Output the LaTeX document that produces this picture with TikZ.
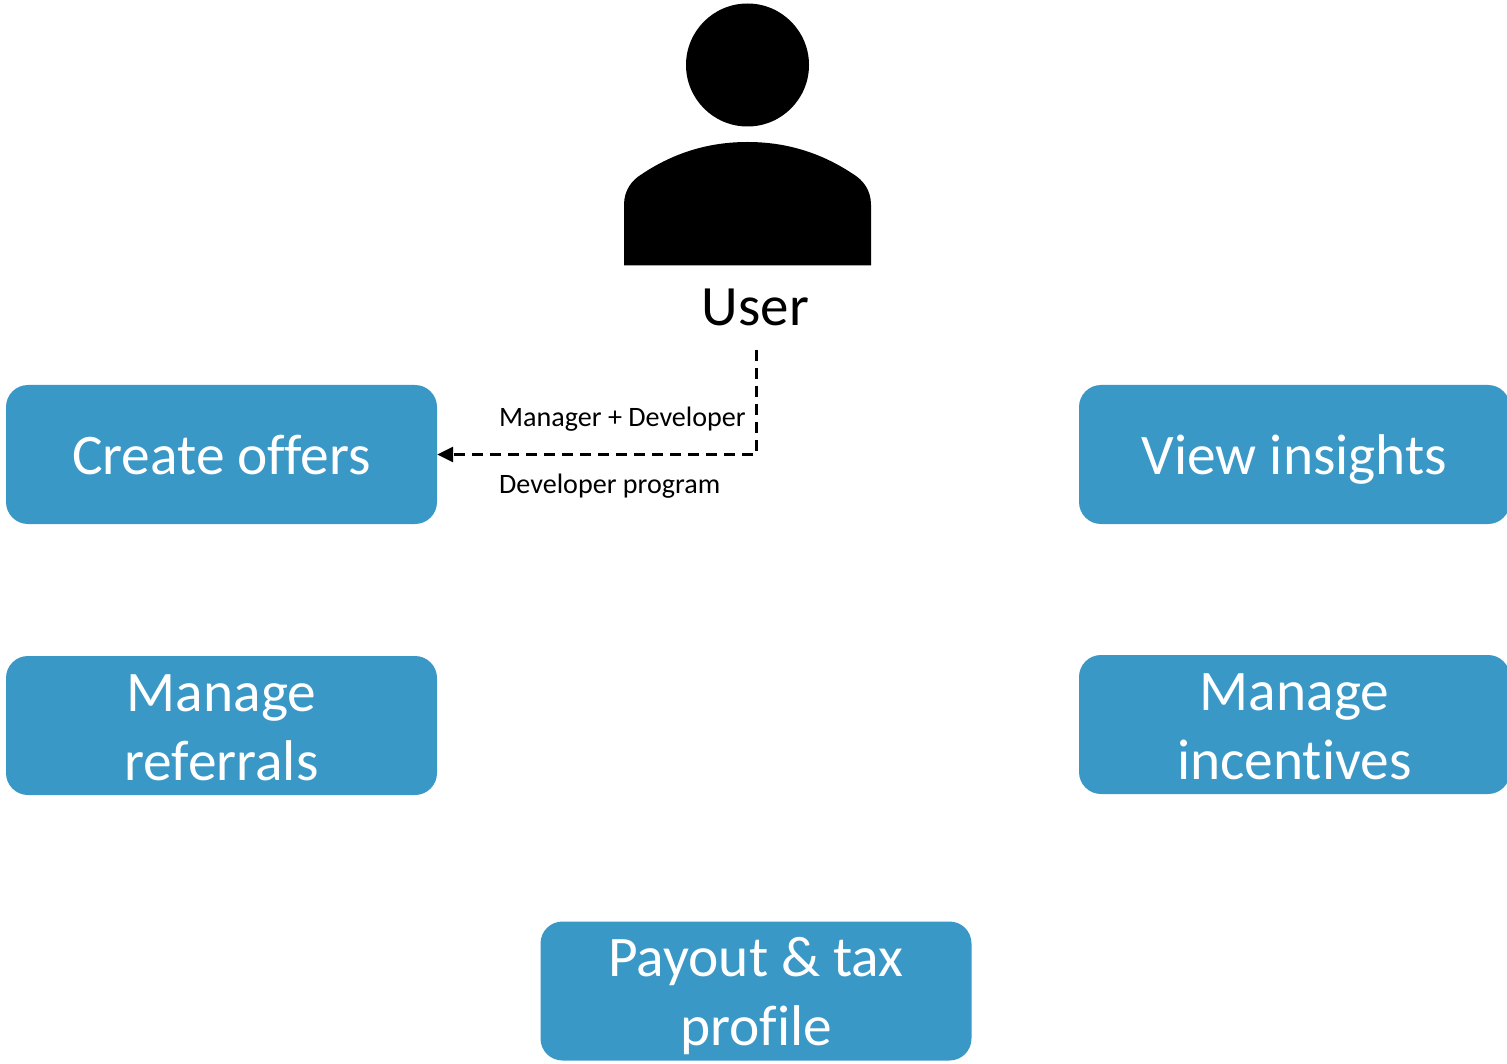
\documentclass[tikz,border=0pt]{standalone}
\usepackage{fontspec}
\setmainfont[Ligatures=NoCommon]{Carlito}
\usetikzlibrary{arrows.meta}
\definecolor{boxblue}{HTML}{3A98C7}
\newcommand{\boxstrut}{\rule[-14.5pt]{0pt}{69pt}}
\tikzset{
  x=1pt,y=-1pt,
  bluebox/.style={fill=boxblue,rounded corners=22pt,text=white,align=center,minimum width=431pt,minimum height=139pt,inner sep=0pt,
    font=\fontsize{57.4}{69}\selectfont},
  smalllabel/.style={anchor=base west,inner sep=0pt,font=\fontsize{28.1}{32}\selectfont},
  flow/.style={line width=2.6pt,dash pattern=on 11pt off 7pt,-{Triangle[length=16pt,width=15pt]}}
}
\begin{document}
\begin{tikzpicture}
\useasboundingbox (0,0) rectangle (1507,1064);
% person icon
\fill (747.5,65) circle (61.5);
\fill (624,265.5) -- (624,205)
  .. controls (624,190) and (632,180) .. (642,174)
  .. controls (675,152) and (710,142) .. (747.5,142)
  .. controls (785,142) and (820,152) .. (853,174)
  .. controls (863,180) and (871,190) .. (871,205)
  -- (871,265.5) -- cycle;
\node[anchor=base,inner sep=0pt,font=\fontsize{57}{68}\selectfont] (user) at (755.5,326) {User};
\coordinate (start) at (756.5,350);
\node[bluebox] (offers) at (221.5,454.5) {\boxstrut Create offers};
\node[bluebox] (insights) at (1294.5,454.5) {\boxstrut View insights};
\node[bluebox] (referrals) at (221.5,725.5) {\boxstrut Manage\\\boxstrut referrals};
\node[bluebox] (incentives) at (1294.5,724.5) {\boxstrut Manage\\\boxstrut incentives};
\node[bluebox] (payout) at (756,991) {\boxstrut Payout \& tax\\\boxstrut profile};
\draw[flow] (start) |- (offers.east);
\node[smalllabel] (mgr) at (499,426) {Manager + Developer};
\node[smalllabel] (dev) at (499,493) {Developer program};
\end{tikzpicture}
\end{document}
